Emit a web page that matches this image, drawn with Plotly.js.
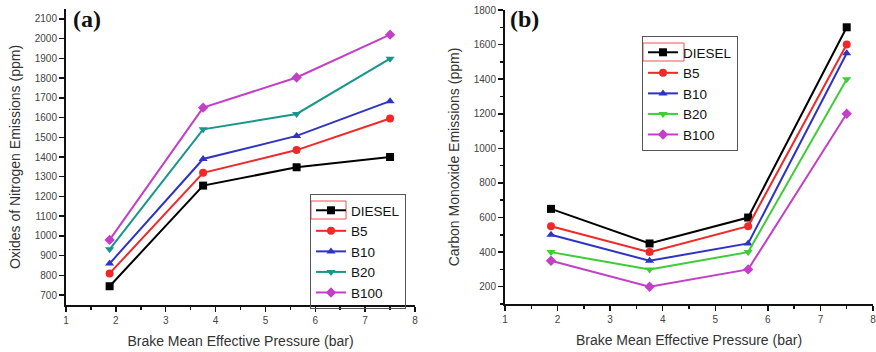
<!DOCTYPE html>
<html>
<head>
<meta charset="utf-8">
<script src="https://cdn.plot.ly/plotly-3.0.1.min.js"></script>
<style>
  html, body { margin: 0; padding: 0; background: #fff; overflow: hidden; }
  #chart { width: 884px; height: 352px; }
</style>
</head>
<body>
<div id="chart"></div>
<script>
// Brake mean effective pressure (bar) at the four load points
const bmep = [1.875, 3.75, 5.625, 7.5];

const fuels = ['DIESEL', 'B5', 'B10', 'B20', 'B100'];

// (a) NOx emissions, ppm
const noxDiesel = [745, 1255, 1348, 1400];
const noxB5     = [810, 1320, 1435, 1595];
const noxB10    = [860, 1390, 1507, 1683];
const noxB20    = [932, 1540, 1618, 1898];
const noxB100   = [980, 1650, 1803, 2020];

// (b) CO emissions, ppm
const coDiesel = [650, 450, 600, 1700];
const coB5     = [550, 400, 550, 1600];
const coB10    = [500, 350, 450, 1550];
const coB20    = [400, 300, 400, 1400];
const coB100   = [350, 200, 300, 1200];

const bmepTicks = [1, 2, 3, 4, 5, 6, 7, 8];

const noxSeries = [noxDiesel, noxB5, noxB10, noxB20, noxB100];
const coSeries  = [coDiesel, coB5, coB10, coB20, coB100];

const symbols = ['square', 'circle', 'triangle-up', 'triangle-down', 'diamond'];
const colorsA = ['#000000', '#f02828', '#2f33c4', '#16978a', '#c23fc6'];
const colorsB = ['#000000', '#f02828', '#2f33c4', '#3fcc36', '#c23fc6'];

const traces = [];
fuels.forEach((name, i) => {
  traces.push({
    x: bmep, y: noxSeries[i], name: name, type: 'scatter', mode: 'lines+markers',
    xaxis: 'x', yaxis: 'y', legend: 'legend',
    line: { color: colorsA[i], width: 2 },
    marker: { symbol: symbols[i], size: 8, color: colorsA[i] }
  });
});
fuels.forEach((name, i) => {
  traces.push({
    x: bmep, y: coSeries[i], name: name, type: 'scatter', mode: 'lines+markers',
    xaxis: 'x2', yaxis: 'y2', legend: 'legend2',
    line: { color: colorsB[i], width: 2 },
    marker: { symbol: symbols[i], size: 8, color: colorsB[i] }
  });
});

// The drawing surface is a little wider than the window so the last
// tick label of the right panel can sit right at the visible edge.
const W = 884, H = 352;
const tickFont = { family: 'Liberation Sans, Arial, sans-serif', size: 10, color: '#444' };
const titleFont = { family: 'Liberation Sans, Arial, sans-serif', size: 14, color: '#333' };

function xAxis(domain, anchor, range) {
  return {
    domain: domain, anchor: anchor, range: range,
    tickmode: 'array', tickvals: bmepTicks, ticktext: bmepTicks.map(String),
    showline: true, linewidth: 2, linecolor: '#111', zeroline: false, showgrid: false,
    ticks: 'outside', ticklen: 5, tickwidth: 1.5, tickcolor: '#111',
    minor: { dtick: 0.5, tick0: 1, ticks: 'outside', ticklen: 3, tickwidth: 1.5, tickcolor: '#111' },
    tickfont: tickFont,
    title: { text: 'Brake Mean Effective Pressure (bar)', font: titleFont, standoff: 11 }
  };
}
function yAxis(domain, anchor, range, dtick, minor, text) {
  const ax = {
    domain: domain, anchor: anchor, range: range, dtick: dtick, tick0: 0,
    showline: true, linewidth: 2, linecolor: '#111', zeroline: false, showgrid: false,
    ticks: 'outside', ticklen: 5, tickwidth: 1.5, tickcolor: '#111',
    tickfont: tickFont,
    title: { text: text, font: titleFont, standoff: 11 }
  };
  if (minor) ax.minor = { dtick: minor, ticks: 'outside', ticklen: 3, tickwidth: 1.5, tickcolor: '#111' };
  return ax;
}

const legendCommon = {
  bgcolor: 'rgba(255,255,255,0)', bordercolor: '#555', borderwidth: 1,
  font: { family: 'Liberation Sans, Arial, sans-serif', size: 13.5, color: '#111' },
  xanchor: 'left', yanchor: 'top', tracegroupgap: 0, itemwidth: 30
};

const layout = {
  width: W, height: H,
  margin: { l: 0, r: 0, t: 0, b: 0 },
  paper_bgcolor: '#fff', plot_bgcolor: '#fff',
  xaxis: xAxis([66 / W, 415 / W], 'y', [1, 8]),
  yaxis: yAxis([1 - 305 / H, 1 - 9 / H], 'x', [650, 2150], 100, null,
               'Oxides of Nitrogen Emissions (ppm)'),
  xaxis2: xAxis([505 / W, 873 / W], 'y2', [1, 8]),
  yaxis2: yAxis([1 - 304 / H, 1 - 10 / H], 'x2', [100, 1800], 200, 100,
                'Carbon Monoxide Emissions (ppm)'),
  legend: Object.assign({ x: 310 / W, y: 1 - 194 / H }, legendCommon),
  legend2: Object.assign({ x: 642 / W, y: 1 - 36 / H }, legendCommon),
  annotations: [
    { text: '<b>(a)</b>', xref: 'paper', yref: 'paper', x: 71 / W, y: 1 - 19 / H,
      xanchor: 'left', yanchor: 'middle', showarrow: false,
      font: { family: 'Liberation Serif, Times New Roman, serif', size: 24, color: '#111' } },
    { text: '<b>(b)</b>', xref: 'paper', yref: 'paper', x: 508 / W, y: 1 - 19 / H,
      xanchor: 'left', yanchor: 'middle', showarrow: false,
      font: { family: 'Liberation Serif, Times New Roman, serif', size: 24, color: '#111' } }
  ],
  shapes: [
    // selection frames around the first legend symbol
    { type: 'rect', xref: 'paper', yref: 'paper',
      x0: 311 / W, x1: 346 / W, y0: 1 - 219 / H, y1: 1 - 201 / H,
      line: { color: '#f05050', width: 1 } },
    { type: 'rect', xref: 'paper', yref: 'paper',
      x0: 643 / W, x1: 684 / W, y0: 1 - 61 / H, y1: 1 - 43 / H,
      line: { color: '#f05050', width: 1 } }
  ],
  showlegend: true
};

Plotly.newPlot('chart', traces, layout, { displayModeBar: false, staticPlot: true });
</script>
</body>
</html>
